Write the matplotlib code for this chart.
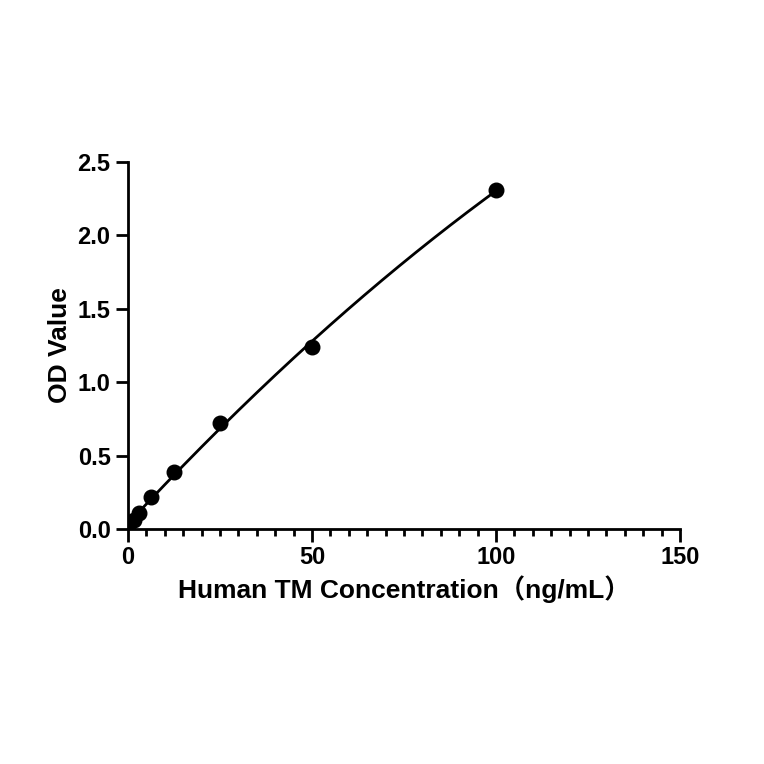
import numpy as np
import matplotlib.pyplot as plt
from matplotlib.ticker import MultipleLocator

plt.rcParams['font.family'] = ['Liberation Sans', 'Noto Sans CJK SC', 'DejaVu Sans']
plt.rcParams['font.weight'] = 'bold'

conc = [0, 1.56, 3.125, 6.25, 12.5, 25, 50, 100]
od = [0.02, 0.06, 0.11, 0.22, 0.39, 0.72, 1.24, 2.31]

fig = plt.figure(figsize=(7.64, 7.64), dpi=100)
ax = fig.add_axes([0.1675, 0.3076, 0.7225, 0.4804])

# smooth standard curve through the points
coef = np.polyfit(conc, od, 2)
xs = np.linspace(0, 100, 300)
ax.plot(xs, np.polyval(coef, xs), color='black', lw=2)
ax.scatter(conc, od, s=110, color='black', zorder=3)

ax.set_xlim(0, 150)
ax.set_ylim(0, 2.5)
ax.xaxis.set_major_locator(MultipleLocator(50))
ax.xaxis.set_minor_locator(MultipleLocator(5))
ax.yaxis.set_major_locator(MultipleLocator(0.5))
ax.yaxis.set_major_formatter(plt.FuncFormatter(lambda v, p: f"{v:.1f}"))
for s in ['top', 'right']:
    ax.spines[s].set_visible(False)
for s in ['left', 'bottom']:
    ax.spines[s].set_linewidth(2)
ax.tick_params(which='major', length=9, width=2, labelsize=17)
ax.tick_params(which='minor', length=5, width=2)
ax.set_xlabel("Human TM Concentration（ng/mL）", fontsize=19, fontweight='bold')
ax.set_ylabel("OD Value", fontsize=19, fontweight='bold')

fig.savefig("out.png", dpi=100)
